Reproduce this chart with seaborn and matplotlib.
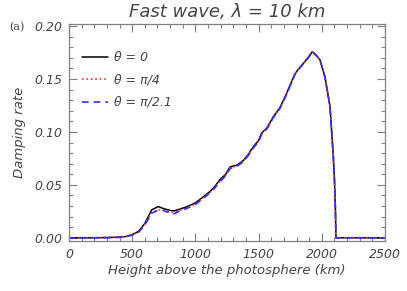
import numpy as np
import pandas as pd
import matplotlib
matplotlib.use("Agg")
import matplotlib.pyplot as plt
from matplotlib.ticker import MultipleLocator, FormatStrFormatter
import seaborn as sns

# height above the photosphere (km)
height = [0, 100, 200, 300, 400, 450, 500, 550, 600, 654, 707, 750, 800, 830,
          870, 930, 1000, 1050, 1115, 1150, 1195, 1240, 1274, 1327, 1379, 1420,
          1458, 1500, 1524, 1564, 1617, 1669, 1722, 1748, 1788, 1820, 1854, 1890,
          1925, 1960, 1986, 2025, 2065, 2091, 2100, 2107, 2112, 2200, 2300, 2400, 2500]

# damping rate for the three propagation angles
rate_0 = [0.0, 0.0, 0.0, 0.0002, 0.0006, 0.0012, 0.003, 0.006, 0.0135, 0.0264,
          0.0295, 0.0275, 0.0258, 0.0254, 0.0268, 0.0292, 0.0330, 0.0375, 0.0437,
          0.0480, 0.0550, 0.0600, 0.0670, 0.0685, 0.0730, 0.0790, 0.0860, 0.0920,
          0.0990, 0.1035, 0.1145, 0.1230, 0.1365, 0.1440, 0.1550, 0.1600, 0.1648,
          0.1700, 0.1758, 0.1720, 0.1680, 0.1520, 0.1240, 0.0767, 0.0550, 0.0295,
          0.0, 0.0, 0.0, 0.0, 0.0]
rate_pi4 = [0.0, 0.0, 0.0, 0.0002, 0.0005, 0.0011, 0.0027, 0.0055, 0.0125, 0.0240,
            0.0264, 0.0262, 0.0240, 0.0238, 0.0255, 0.0280, 0.0320, 0.0365, 0.0428,
            0.0470, 0.0538, 0.0590, 0.0660, 0.0678, 0.0722, 0.0783, 0.0852, 0.0912,
            0.0982, 0.1030, 0.1140, 0.1225, 0.1360, 0.1436, 0.1547, 0.1598, 0.1645,
            0.1698, 0.1756, 0.1718, 0.1679, 0.1518, 0.1238, 0.0765, 0.0548, 0.0293,
            0.0, 0.0, 0.0, 0.0, 0.0]
rate_pi21 = [0.0, 0.0, 0.0, 0.0001, 0.0004, 0.0010, 0.0025, 0.0052, 0.0120, 0.0233,
             0.0260, 0.0258, 0.0232, 0.0226, 0.0250, 0.0276, 0.0316, 0.0360, 0.0424,
             0.0466, 0.0532, 0.0585, 0.0655, 0.0675, 0.0718, 0.0780, 0.0848, 0.0908,
             0.0978, 0.1027, 0.1136, 0.1222, 0.1356, 0.1434, 0.1545, 0.1596, 0.1644,
             0.1697, 0.1755, 0.1717, 0.1678, 0.1517, 0.1237, 0.0764, 0.0547, 0.0292,
             0.0, 0.0, 0.0, 0.0, 0.0]

labels = ["θ = 0", "θ = π/4", "θ = π/2.1"]

sns.set_style("ticks")
plt.rcParams['font.family'] = ['DejaVu Sans']
plt.rcParams['font.style'] = 'italic'
gray = '#808080'
txt = '#454545'

df = pd.DataFrame({
    'height': height * 3,
    'rate': rate_0 + rate_pi4 + rate_pi21,
    'theta': [labels[0]] * len(height) + [labels[1]] * len(height) + [labels[2]] * len(height),
})

fig = plt.figure(figsize=(4.07, 2.91), dpi=100)
ax = fig.add_axes([0.1695, 0.172, 0.7765, 0.7455])

styles = {labels[0]: ('black', '-', 1.1), labels[1]: ('#ff3030', ':', 1.2),
          labels[2]: ('#3030ff', (0, (4, 3)), 1.2)}
for lab in labels:
    col, ls, lw = styles[lab]
    sns.lineplot(data=df[df['theta'] == lab], x='height', y='rate', ax=ax,
                 color=col, linestyle=ls, linewidth=lw, label=lab)

ax.set_xlim(0, 2500)
ax.set_ylim(-0.003, 0.202)
ax.xaxis.set_major_locator(MultipleLocator(500))
ax.xaxis.set_minor_locator(MultipleLocator(100))
ax.yaxis.set_major_locator(MultipleLocator(0.05))
ax.yaxis.set_minor_locator(MultipleLocator(0.01))
ax.yaxis.set_major_formatter(FormatStrFormatter('%.2f'))
ax.tick_params(which='both', direction='in', top=True, right=True, color=gray,
               width=0.8, labelsize=9, labelcolor=txt)
ax.tick_params(which='major', length=6, pad=5)
ax.tick_params(which='minor', length=3)
for s in ax.spines.values():
    s.set_color(gray)
    s.set_linewidth(0.9)

ax.set_xlabel('Height above the photosphere (km)', fontsize=9.5, color=txt, labelpad=2)
ax.set_ylabel('Damping rate', fontsize=9.5, color=txt, labelpad=6)
ax.set_title('Fast wave, λ = 10 km', fontsize=13, color=txt, pad=5)
fig.text(0.022, 0.897, '(a)', fontsize=8, color=txt, style='normal', family='DejaVu Serif')

leg = ax.legend(loc='upper left', bbox_to_anchor=(0.041, 0.875), frameon=False,
                fontsize=9, handlelength=2.1, handletextpad=0.5, labelspacing=0.75,
                borderaxespad=0, borderpad=0)
for t in leg.get_texts():
    t.set_color(txt)

fig.savefig('out.png', dpi=100)
